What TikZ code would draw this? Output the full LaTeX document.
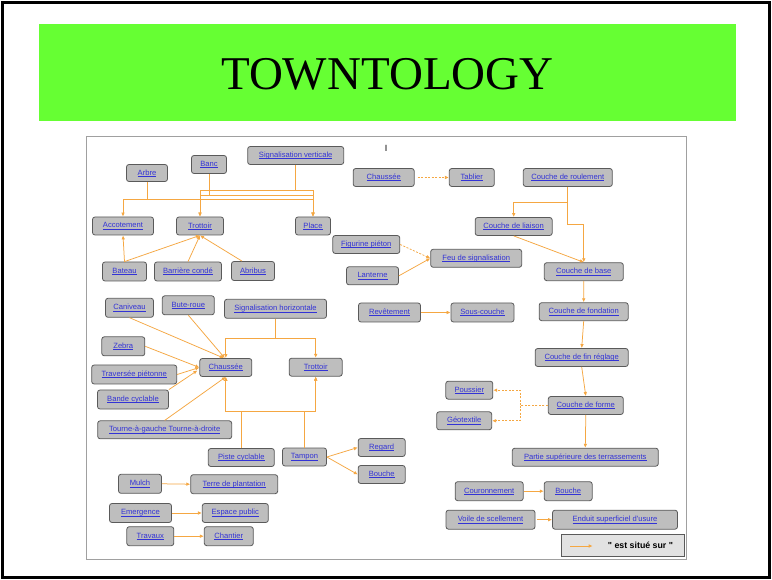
\documentclass[tikz,border=0pt]{standalone}
\usepackage{fontspec}
\usetikzlibrary{arrows.meta,calc}
\newfontfamily\lsans{Liberation Sans}
\newfontfamily\lserif{Liberation Serif}
\definecolor{boxfill}{HTML}{BEBEBE}
\definecolor{boxborder}{HTML}{5A5A5A}
\definecolor{linkblue}{HTML}{3333D6}
\definecolor{lineorange}{HTML}{F5A742}
\definecolor{titlegreen}{HTML}{66FF33}
\definecolor{framegray}{HTML}{A0A0A0}
\definecolor{legfill}{HTML}{E2E2E2}
\newcommand\linktxt[1]{\setbox0=\hbox{#1}\rlap{\rule[-1.4pt]{\wd0}{0.5pt}}\box0}
\tikzset{
  box/.style={draw=boxborder, fill=boxfill, rounded corners=2.5pt, minimum height=18pt,
    inner sep=0pt, line width=0.8pt, text=linkblue, font=\lsans\fontsize{7.6}{9}\selectfont},
  arr/.style={draw=lineorange, line width=0.75pt, -{Latex[length=4pt,width=3.6pt]}},
  darr/.style={arr, dashed, dash pattern=on 2pt off 1.5pt},
}
\begin{document}
\begin{tikzpicture}[x=1pt,y=-1pt]
\useasboundingbox (0,0) rectangle (772,580);
% outer border and title band
\draw[line width=3pt] (2.5,2.5) rectangle (769.5,577.5);
\fill[titlegreen] (39.4,24) rectangle (735.5,120.7);
\node[font=\lserif\fontsize{47}{50}\selectfont, anchor=base, inner sep=0pt] (title) at (387.4,90) {TOWNTOLOGY};
% diagram frame
\draw[framegray, line width=1pt, fill=white] (86,136.7) rectangle (686,559);
\node[font=\lsans\fontsize{9}{10}\selectfont, inner sep=0pt] (cursor) at (386,148) {I};

% levels
\coordinate (lvA) at (0,199);
\coordinate (lvB) at (0,195);
\coordinate (lvC) at (0,190);
\coordinate (lvD) at (0,202.7);
\coordinate (lvE) at (0,224.3);
\coordinate (lvF) at (0,338.3);
\coordinate (lvG) at (0,411.7);
\coordinate (fj) at (520,405.5);

% nodes
\node[box, minimum width=41pt, minimum height=17pt] (arbre) at (147,173) {\linktxt{Arbre}};
\node[box, minimum width=35pt] (banc) at (209,164.5) {\linktxt{Banc}};
\node[box, minimum width=96pt] (sigv) at (295.7,155.5) {\linktxt{Signalisation verticale}};
\node[box, minimum width=61pt] (accot) at (123,226) {\linktxt{Accotement}};
\node[box, minimum width=47pt] (trot1) at (200,226) {\linktxt{Trottoir}};
\node[box, minimum width=35pt] (place) at (313,226) {\linktxt{Place}};
\node[box, minimum width=44pt, minimum height=19pt] (bateau) at (124.5,271.5) {\linktxt{Bateau}};
\node[box, minimum width=67pt, minimum height=19pt] (barriere) at (188,271.5) {\linktxt{Barrière condé}};
\node[box, minimum width=43pt, minimum height=19pt] (abribus) at (253,271) {\linktxt{Abribus}};
\node[box, minimum width=61pt] (chau1) at (383.7,177.5) {\linktxt{Chaussée}};
\node[box, minimum width=45pt] (tablier) at (471.8,177.5) {\linktxt{Tablier}};
\node[box, minimum width=89pt] (croul) at (567.8,177.5) {\linktxt{Couche de roulement}};
\node[box, minimum width=77pt] (cliais) at (513.7,226.5) {\linktxt{Couche de liaison}};
\node[box, minimum width=79pt] (cbase) at (583.8,271.7) {\linktxt{Couche de base}};
\node[box, minimum width=67pt] (figurine) at (366.3,244.5) {\linktxt{Figurine piéton}};
\node[box, minimum width=91pt] (feu) at (476.2,258.3) {\linktxt{Feu de signalisation}};
\node[box, minimum width=52pt] (lanterne) at (372.5,275.8) {\linktxt{Lanterne}};
\node[box, minimum width=48pt, minimum height=19pt] (caniveau) at (129.5,307.8) {\linktxt{Caniveau}};
\node[box, minimum width=52pt, minimum height=19pt] (buteroue) at (188.3,305.3) {\linktxt{Bute-roue}};
\node[box, minimum width=102pt, minimum height=19pt] (sigh) at (275.5,308.8) {\linktxt{Signalisation horizontale}};
\node[box, minimum width=43pt, minimum height=19pt] (zebra) at (123.3,346.3) {\linktxt{Zebra}};
\node[box, minimum width=52pt] (chau2) at (225.8,367.5) {\linktxt{Chaussée}};
\node[box, minimum width=53pt] (trot2) at (315.7,367.2) {\linktxt{Trottoir}};
\node[box, minimum width=85pt, minimum height=19pt] (traversee) at (134.2,374.5) {\linktxt{Traversée piétonne}};
\node[box, minimum width=71pt, minimum height=19pt] (bande) at (133,399.5) {\linktxt{Bande cyclable}};
\node[box, minimum width=134pt] (tourne) at (164.7,429.8) {\linktxt{Tourne-à-gauche Tourne-à-droite}};
\node[box, minimum width=66pt] (piste) at (241.3,457.5) {\linktxt{Piste cyclable}};
\node[box, minimum width=44pt] (tampon) at (304.5,457) {\linktxt{Tampon}};
\node[box, minimum width=47pt] (regard) at (381.7,447.5) {\linktxt{Regard}};
\node[box, minimum width=47pt] (bouche1) at (381.7,474.5) {\linktxt{Bouche}};
\node[box, minimum width=43pt, minimum height=19pt] (mulch) at (140,483.8) {\linktxt{Mulch}};
\node[box, minimum width=87pt, minimum height=19pt] (terre) at (234.2,484.2) {\linktxt{Terre de plantation}};
\node[box, minimum width=62pt, minimum height=19pt] (emergence) at (140.5,513) {\linktxt{Emergence}};
\node[box, minimum width=66pt, minimum height=19pt] (espace) at (235.3,513) {\linktxt{Espace public}};
\node[box, minimum width=47pt, minimum height=19pt] (travaux) at (150.3,536.2) {\linktxt{Travaux}};
\node[box, minimum width=49pt, minimum height=19pt] (chantier) at (228.8,536.2) {\linktxt{Chantier}};
\node[box, minimum width=62pt, minimum height=19pt] (revet) at (389.5,312.5) {\linktxt{Revêtement}};
\node[box, minimum width=63pt, minimum height=19pt] (souscouche) at (482.5,312.5) {\linktxt{Sous-couche}};
\node[box, minimum width=89pt] (cfond) at (583.7,311.7) {\linktxt{Couche de fondation}};
\node[box, minimum width=93pt] (cfin) at (581.7,357.5) {\linktxt{Couche de fin réglage}};
\node[box, minimum width=75pt] (cforme) at (585.8,405.5) {\linktxt{Couche de forme}};
\node[box, minimum width=47pt] (poussier) at (469.3,390.2) {\linktxt{Poussier}};
\node[box, minimum width=55pt] (geotex) at (464.2,420.8) {\linktxt{Géotextile}};
\node[box, minimum width=146pt] (partie) at (585.3,457.2) {\linktxt{Partie supérieure des terrassements}};
\node[box, minimum width=68pt, minimum height=19pt] (couronn) at (489.2,491.2) {\linktxt{Couronnement}};
\node[box, minimum width=48pt, minimum height=19pt] (bouche2) at (568.2,491.2) {\linktxt{Bouche}};
\node[box, minimum width=89pt, minimum height=19pt] (voile) at (490.5,519.7) {\linktxt{Voile de scellement}};
\node[box, minimum width=125pt, minimum height=19pt] (enduit) at (615,519.7) {\linktxt{Enduit superficiel d'usure}};

% legend
\node[draw=boxborder, fill=legfill, line width=0.8pt, minimum width=123pt, minimum height=22.5pt, inner sep=0pt] (legend) at (622.5,545.5) {};
\coordinate (lega) at (570,546);
\coordinate (legb) at (592.7,546);
\draw[arr] (lega) -- (legb);
\node[font=\lsans\bfseries\fontsize{8.8}{10}\selectfont, inner sep=0pt] (legtext) at (640.5,545.5) {" est situé sur "};

% connectors: top-left group
\draw[arr] (arbre.south) -- (arbre.south |- lvA) -| (accot.north);
\draw[arr] (arbre.south) -- (arbre.south |- lvA) -| (place.north);
\draw[arr] (banc.south) -- (banc.south |- lvB) -| (trot1.north);
\draw[arr] (banc.south) -- (banc.south |- lvB) -| (place.north);
\draw[arr] (sigv.south) -- (sigv.south |- lvC) -| (trot1.north);
\draw[arr] (sigv.south) -- (sigv.south |- lvC) -| (place.north);
\draw[arr] (bateau.north) -- (accot.south);
\draw[arr] (bateau.north) -- (trot1.south);
\draw[arr] (barriere.north) -- (trot1.south);
\draw[arr] ($(abribus.north)+(-11,0)$) -- (trot1.south);

% top-right group
\draw[darr] ($(chau1.east)+(3,0)$) -- (tablier.west);
\draw[arr] (croul.south) -- (croul.south |- lvD) -| (cliais.north);
\draw[arr] (croul.south) -- (croul.south |- lvE) -| (cbase.north);
\draw[arr] (cliais.south) -- (cbase.north);
\draw[darr] (figurine.east) -- (feu.west);
\draw[arr] (lanterne.east) -- (feu.west);
\draw[arr] (revet.east) -- (souscouche.west);
\draw[arr] (cbase.south) -- (cfond.north);
\draw[arr] (cfond.south) -- (cfin.north);
\draw[arr] (cfin.south) -- (cforme.north);
\draw[arr] (cforme.south) -- (partie.north);
\draw[darr] (cforme.west) -- (fj) |- (poussier.east);
\draw[darr] (cforme.west) -- (fj) |- (geotex.east);
\draw[arr] (couronn.east) -- (bouche2.west);
\draw[arr] ($(voile.east)+(2,0)$) -- (enduit.west);

% middle-left group
\draw[arr] (caniveau.south) -- ($(chau2.north)+(-2,0)$);
\draw[arr] (buteroue.south) -- ($(chau2.north)+(-1,0)$);
\draw[arr] (sigh.south) -- (sigh.south |- lvF) -| (chau2.north);
\draw[arr] (sigh.south) -- (sigh.south |- lvF) -| (trot2.north);
\draw[arr] (zebra.east) -- (chau2.west);
\draw[arr] (traversee.east) -- (chau2.west);
\draw[arr] (bande.north east) -- ($(chau2.west)+(-2,3)$);
\draw[arr] (tourne.north) -- (chau2.south);
\draw[arr] (piste.north) -- (piste.north |- lvG) -| (chau2.south);
\draw[arr] (piste.north) -- (piste.north |- lvG) -| (trot2.south);
\draw[arr] (tampon.north) -- (tampon.north |- lvG) -| (chau2.south);
\draw[arr] (tampon.north) -- (tampon.north |- lvG) -| (trot2.south);
\draw[arr] (tampon.east) -- (regard.west);
\draw[arr] (tampon.east) -- (bouche1.west);
\draw[arr] (mulch.east) -- (terre.west);
\draw[arr] (emergence.east) -- (espace.west);
\draw[arr] (travaux.east) -- (chantier.west);
\end{tikzpicture}
\end{document}
